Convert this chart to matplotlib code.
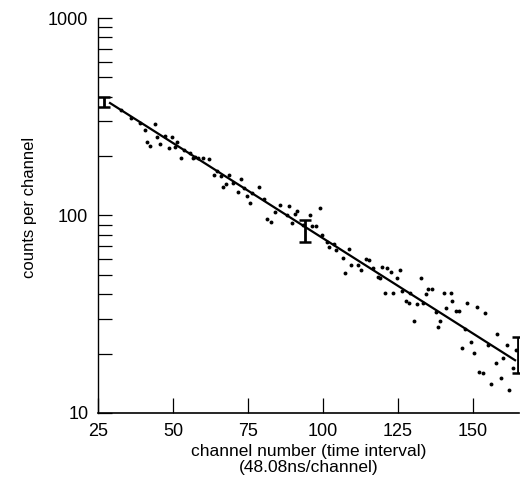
import matplotlib
matplotlib.use("Agg")
import matplotlib.pyplot as plt
from matplotlib.ticker import FixedLocator, LogLocator, NullFormatter

plt.rcParams['font.family'] = ['Liberation Sans', 'DejaVu Sans']

# scattered channel counts
channel = [32.7, 36.0, 39.0, 40.7, 44.1, 44.7, 47.4, 49.7, 41.4, 42.4, 45.7, 48.7,
           51.4, 50.7, 53.8, 52.8, 55.8, 57.4,
           56.8, 58.4, 60.1, 62.1, 64.8, 63.8, 66.1, 68.5, 66.5, 67.5, 70.1, 72.8,
           71.8, 73.8, 74.5, 76.2, 78.8, 75.8, 80.2, 81.2, 82.5, 83.9, 85.5, 87.9,
           88.5, 91.2, 90.5, 89.5, 93.2, 95.6, 98.9, 96.2, 97.6, 99.6, 101.2, 103.6,
           101.9, 104.3, 108.6, 106.6, 109.3, 111.6, 112.6, 114.3, 115.3, 116.6, 107.3, 118.3,
           119.6, 121.3, 122.6, 125.7, 119.0, 124.7, 120.6, 123.3, 126.3, 129.0, 132.7, 135.0,
           136.4, 134.3, 140.4, 127.7, 128.7, 131.3, 133.3, 137.7, 139.0, 130.3, 141.0, 138.4,
           142.7, 143.0, 144.4, 145.4, 148.1, 151.4, 154.1, 147.4, 149.4, 146.4, 150.4, 155.1,
           158.1, 161.4, 160.1, 157.8, 152.1, 153.4, 159.4, 163.4, 156.1, 162.1, 164.4]
counts = [342, 311, 294, 271, 290, 250, 252, 250, 236, 225, 230, 220,
          236, 222, 215, 196, 207, 198,
          195, 195, 195, 193, 168, 160, 158, 160, 139, 144, 146, 153,
          131, 138, 126, 130, 139, 116, 121, 96, 93, 104, 113, 101,
          112, 105, 102, 92, 90, 101, 109, 88, 88, 80, 73.5, 72,
          69, 67, 68, 61, 56, 56, 53, 60, 59.6, 54, 51, 49,
          55, 54, 52, 53, 48, 48, 40.5, 40.5, 41.5, 40.5, 48, 42.4,
          42.4, 40, 40.5, 37, 36, 35.6, 36, 32.5, 29.2, 29.2, 34, 27.3,
          40.5, 37, 32.8, 32.8, 36, 34.4, 32, 26.6, 23, 21.3, 20.1, 22.1,
          25.1, 22.1, 19, 17.9, 16.1, 15.9, 15, 16.9, 14, 13.1, 20.8]

# fitted decay line end points
fit_x = [29, 164]
fit_y = [371, 18.5]

# sample error bars
err_x = [27, 93.9, 165]
err_y = [375, 84, 19.6]
err_lo = [354, 73.5, 15.9]
err_hi = [398, 95, 24.3]

x_ticks = [25, 50, 75, 100, 125, 150]

fig = plt.figure(figsize=(5.2, 4.87), dpi=100)
ax = fig.add_axes([0.1885, 0.152, 0.8095, 0.811])

ax.plot(channel, counts, 'o', color='black', markersize=2.8, markeredgewidth=0)
ax.plot(fit_x, fit_y, '-', color='black', linewidth=1.6)
yerr = [[c - l for c, l in zip(err_y, err_lo)], [h - c for c, h in zip(err_y, err_hi)]]
ax.errorbar(err_x, err_y, yerr=yerr, fmt='none', ecolor='black',
            elinewidth=2, capsize=4, capthick=1.8)

ax.set_yscale('log')
ax.set_ylim(10, 1000)
ax.set_xlim(25, 165.3)

ax.yaxis.set_major_locator(FixedLocator([10, 100, 1000]))
ax.set_yticklabels(['10', '100', '1000'])
ax.yaxis.set_minor_locator(LogLocator(base=10, subs=range(2, 10)))
ax.yaxis.set_minor_formatter(NullFormatter())

ax.xaxis.set_major_locator(FixedLocator(x_ticks))
ax.set_xticklabels([str(t) for t in x_ticks])

ax.tick_params(axis='y', which='both', direction='in', length=10, width=0.9,
               labelsize=13, pad=7)
ax.tick_params(axis='x', which='major', direction='in', length=11, width=0.9,
               labelsize=13, pad=7)

for s in ['top', 'right']:
    ax.spines[s].set_visible(False)
ax.spines['left'].set_linewidth(1.0)
ax.spines['bottom'].set_linewidth(1.2)

ax.set_ylabel('counts per channel', fontsize=12)
ax.yaxis.set_label_coords(-0.145, 0.52)
ax.set_xlabel('channel number (time interval)\n(48.08ns/channel)', fontsize=12.5,
              labelpad=3, linespacing=1.1)

fig.savefig('out.png', dpi=100)
